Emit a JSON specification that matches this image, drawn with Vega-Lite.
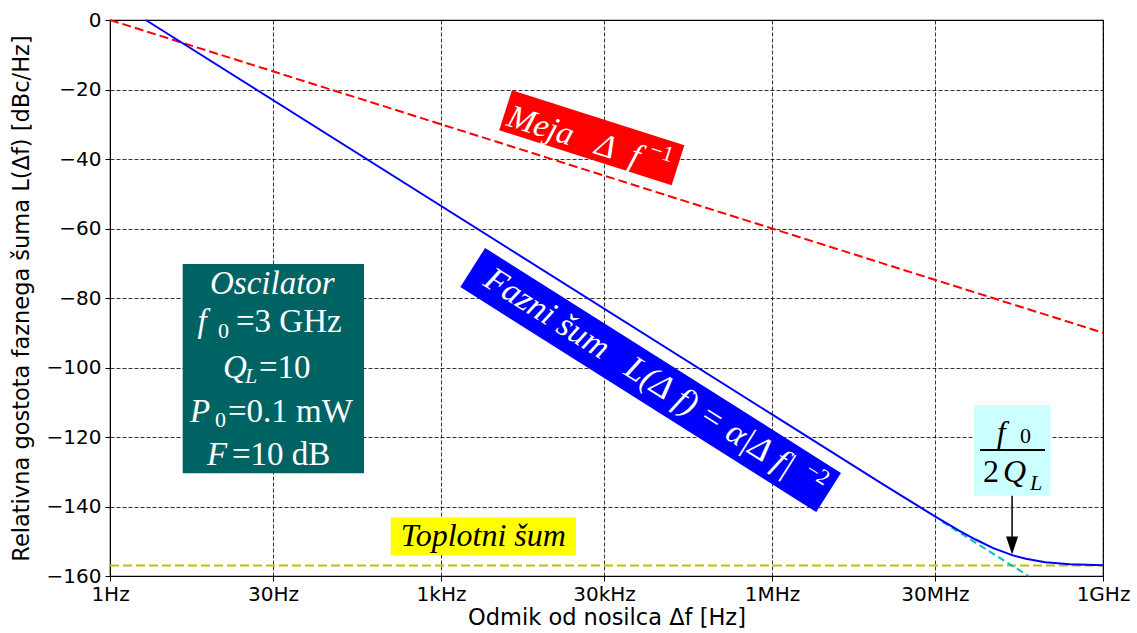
{
  "$schema": "https://vega.github.io/schema/vega-lite/v6.json",
  "width": 993,
  "height": 556,
  "autosize": {"type": "none"},
  "padding": {"left": 110, "top": 20, "right": 34, "bottom": 57},
  "background": "white",
  "config": {
    "view": {"stroke": "black", "strokeWidth": 1.2},
    "axis": {
      "labelFont": "DejaVu Sans", "titleFont": "DejaVu Sans",
      "labelFontSize": 20, "titleFontSize": 22.5,
      "labelColor": "black", "titleColor": "black", "titleFontWeight": "normal",
      "domainColor": "black", "tickColor": "black", "tickSize": 5,
      "gridColor": "black", "gridDash": [4, 2], "gridOpacity": 0.8, "gridWidth": 1
    }
  },
  "datasets": {
    "meja": [{"f": 1, "L": 0}, {"f": 1000000000, "L": -90}],
    "floor": [{"f": 1, "L": -157}, {"f": 1000000000, "L": -157}],
    "asym": [{"f": 35000000, "L": -144.4}, {"f": 211000000, "L": -160}],
    "fazni": [
      {"f": 2.11, "L": 0}, {"f": 1000000, "L": -113.5}, {"f": 10000000, "L": -133.5},
      {"f": 20000000, "L": -139.4}, {"f": 30000000, "L": -142.85}, {"f": 50000000, "L": -147},
      {"f": 70000000, "L": -149.5}, {"f": 100000000, "L": -151.9}, {"f": 150000000, "L": -154},
      {"f": 200000000, "L": -155.05}, {"f": 300000000, "L": -156.05}, {"f": 500000000, "L": -156.65},
      {"f": 1000000000, "L": -156.9}
    ],
    "mejaBox": [{"f": 23264, "L": -33.88}],
    "mejaText": [{"f": 16050, "L": -33.53, "t": "Meja\u00a0\u00a0\u00a0Δ\u00a0\u00a0f"}],
    "mejaSup": [{"f": 100700, "L": -37.99, "t": "−1"}],
    "fazniBox": [{"f": 79470, "L": -103.6}],
    "fazniText": [{"f": 62950, "L": -101.44, "t": "Fazni\u00a0šum\u00a0\u00a0\u00a0L(Δ\u00a0f)\u00a0=\u00a0α|Δ\u00a0f|"}],
    "fazniSup": [{"f": 2600000, "L": -130.6, "t": "−2"}],
    "oscBox": [{"f": 4.559, "f2": 200.5, "L": -70.22, "L2": -130.45}],
    "oscItalic": [
      {"f": 8.06, "L": -78.85, "t": "Oscilator"},
      {"f": 6.2, "L": -89.78, "t": "f"},
      {"f": 10.57, "L": -103.02, "t": "Q"},
      {"f": 5.31, "L": -115.68, "t": "P"},
      {"f": 7.57, "L": -128.06, "t": "F"}
    ],
    "oscRoman": [
      {"f": 13.87, "L": -89.78, "t": "=3\u00a0GHz"},
      {"f": 22.41, "L": -103.02, "t": "=10"},
      {"f": 11.73, "L": -115.68, "t": "=0.1\u00a0mW"},
      {"f": 12.76, "L": -128.06, "t": "=10\u00a0dB"}
    ],
    "oscSub": [{"f": 9.52, "L": -91.51, "t": "0"}, {"f": 8.94, "L": -117.12, "t": "0"}],
    "oscSubItalic": [{"f": 16.73, "L": -104.46, "t": "L"}],
    "qBox": [{"f": 67740000, "f2": 335700000, "L": -110.79, "L2": -136.89}],
    "qItalic": [{"f": 108800000, "L": -121.64, "t": "f"}, {"f": 124100000, "L": -132.86, "t": "Q"}],
    "qRoman": [{"f": 81720000, "L": -132.86, "t": "2"}],
    "qSub": [{"f": 176900000, "L": -121.73, "t": "0"}],
    "qSubItalic": [{"f": 218000000, "L": -135.25, "t": "L"}],
    "qBar": [{"f": 76770000, "f2": 298100000, "L": -123.74}],
    "arrowShaft": [{"f": 150000000, "L": -136.9, "L2": -149}],
    "arrowHead": [{"f": 150000000, "L": -153.8}],
    "topBox": [{"f": 350.1, "f2": 16735, "L": -143.11, "L2": -153.96}],
    "topText": [{"f": 2421, "L": -151.37, "t": "Toplotni šum"}]
  },
  "encoding": {
    "x": {
      "field": "f", "type": "quantitative",
      "scale": {"type": "log", "domain": [1, 1000000000], "nice": false},
      "axis": {
        "title": "Odmik od nosilca Δf [Hz]",
        "values": [1, 30, 1000, 30000, 1000000, 30000000, 1000000000],
        "labelExpr": "datum.value == 1 ? '1Hz' : datum.value == 30 ? '30Hz' : datum.value == 1000 ? '1kHz' : datum.value == 30000 ? '30kHz' : datum.value == 1000000 ? '1MHz' : datum.value == 30000000 ? '30MHz' : '1GHz'",
        "grid": true, "labelFlush": false, "labelOverlap": false,
        "labelPadding": 3, "titlePadding": 2
      }
    },
    "y": {
      "field": "L", "type": "quantitative",
      "scale": {"domain": [-160, 0], "nice": false, "zero": false},
      "axis": {
        "title": "Relativna gostota faznega šuma L(Δf) [dBc/Hz]",
        "values": [-160, -140, -120, -100, -80, -60, -40, -20, 0],
        "grid": true, "labelPadding": 4, "titleX": -89, "titleBaseline": "middle"
      }
    }
  },
  "layer": [
    {"data": {"name": "meja"}, "mark": {"type": "line", "color": "#ff0000", "strokeWidth": 2, "strokeDash": [9, 4]}},
    {"data": {"name": "floor"}, "mark": {"type": "line", "color": "#bfbf00", "strokeWidth": 2, "strokeDash": [9, 4]}},
    {"data": {"name": "asym"}, "mark": {"type": "line", "color": "#00bfbf", "strokeWidth": 2, "strokeDash": [7, 4]}},
    {"data": {"name": "fazni"}, "mark": {"type": "line", "color": "#0000ff", "strokeWidth": 2}},
    {"data": {"name": "mejaBox"}, "mark": {"type": "point", "shape": "M-1,-0.232L1,-0.232L1,0.232L-1,0.232Z", "size": 32761, "angle": 17.7, "filled": true, "color": "#ff0000", "opacity": 1, "strokeWidth": 0}},
    {"data": {"name": "mejaText"}, "mark": {"type": "text", "angle": 17.7, "font": "Liberation Serif", "fontStyle": "italic", "fontSize": 33, "color": "white", "align": "center", "baseline": "middle"}, "encoding": {"text": {"field": "t"}}},
    {"data": {"name": "mejaSup"}, "mark": {"type": "text", "angle": 17.7, "font": "Liberation Serif", "fontSize": 22, "color": "white", "align": "center", "baseline": "middle"}, "encoding": {"text": {"field": "t"}}},
    {"data": {"name": "fazniBox"}, "mark": {"type": "point", "shape": "M-1,-0.11L1,-0.11L1,0.11L-1,0.11Z", "size": 177241, "angle": 32.3, "filled": true, "color": "#0000ff", "opacity": 1, "strokeWidth": 0}},
    {"data": {"name": "fazniText"}, "mark": {"type": "text", "angle": 32.3, "font": "Liberation Serif", "fontStyle": "italic", "fontSize": 34, "color": "white", "align": "center", "baseline": "middle"}, "encoding": {"text": {"field": "t"}}},
    {"data": {"name": "fazniSup"}, "mark": {"type": "text", "angle": 32.3, "font": "Liberation Serif", "fontSize": 22, "color": "white", "align": "center", "baseline": "middle"}, "encoding": {"text": {"field": "t"}}},
    {"data": {"name": "oscBox"}, "mark": {"type": "rect", "color": "#006363"}, "encoding": {"x2": {"field": "f2"}, "y2": {"field": "L2"}}},
    {"data": {"name": "oscItalic"}, "mark": {"type": "text", "font": "Liberation Serif", "fontStyle": "italic", "fontSize": 33, "color": "white", "align": "left", "baseline": "alphabetic"}, "encoding": {"text": {"field": "t"}}},
    {"data": {"name": "oscRoman"}, "mark": {"type": "text", "font": "Liberation Serif", "fontSize": 33, "color": "white", "align": "left", "baseline": "alphabetic"}, "encoding": {"text": {"field": "t"}}},
    {"data": {"name": "oscSub"}, "mark": {"type": "text", "font": "Liberation Serif", "fontSize": 22, "color": "white", "align": "left", "baseline": "alphabetic"}, "encoding": {"text": {"field": "t"}}},
    {"data": {"name": "oscSubItalic"}, "mark": {"type": "text", "font": "Liberation Serif", "fontStyle": "italic", "fontSize": 22, "color": "white", "align": "left", "baseline": "alphabetic"}, "encoding": {"text": {"field": "t"}}},
    {"data": {"name": "qBox"}, "mark": {"type": "rect", "color": "#ccffff"}, "encoding": {"x2": {"field": "f2"}, "y2": {"field": "L2"}}},
    {"data": {"name": "qBar"}, "mark": {"type": "rule", "color": "black", "strokeWidth": 2}, "encoding": {"x2": {"field": "f2"}}},
    {"data": {"name": "qItalic"}, "mark": {"type": "text", "font": "Liberation Serif", "fontStyle": "italic", "fontSize": 32, "color": "black", "align": "left", "baseline": "alphabetic"}, "encoding": {"text": {"field": "t"}}},
    {"data": {"name": "qRoman"}, "mark": {"type": "text", "font": "Liberation Serif", "fontSize": 32, "color": "black", "align": "left", "baseline": "alphabetic"}, "encoding": {"text": {"field": "t"}}},
    {"data": {"name": "qSub"}, "mark": {"type": "text", "font": "Liberation Serif", "fontSize": 22, "color": "black", "align": "left", "baseline": "alphabetic"}, "encoding": {"text": {"field": "t"}}},
    {"data": {"name": "qSubItalic"}, "mark": {"type": "text", "font": "Liberation Serif", "fontStyle": "italic", "fontSize": 22, "color": "black", "align": "left", "baseline": "alphabetic"}, "encoding": {"text": {"field": "t"}}},
    {"data": {"name": "arrowShaft"}, "mark": {"type": "rule", "color": "black", "strokeWidth": 1.5}, "encoding": {"y2": {"field": "L2"}}},
    {"data": {"name": "arrowHead"}, "mark": {"type": "point", "shape": "M-0.67,-2L0.67,-2L0,0Z", "size": 324, "filled": true, "color": "black", "opacity": 1, "strokeWidth": 0}},
    {"data": {"name": "topBox"}, "mark": {"type": "rect", "color": "#ffff00"}, "encoding": {"x2": {"field": "f2"}, "y2": {"field": "L2"}}},
    {"data": {"name": "topText"}, "mark": {"type": "text", "font": "Liberation Serif", "fontStyle": "italic", "fontSize": 32, "color": "black", "align": "center", "baseline": "alphabetic"}, "encoding": {"text": {"field": "t"}}}
  ]
}
